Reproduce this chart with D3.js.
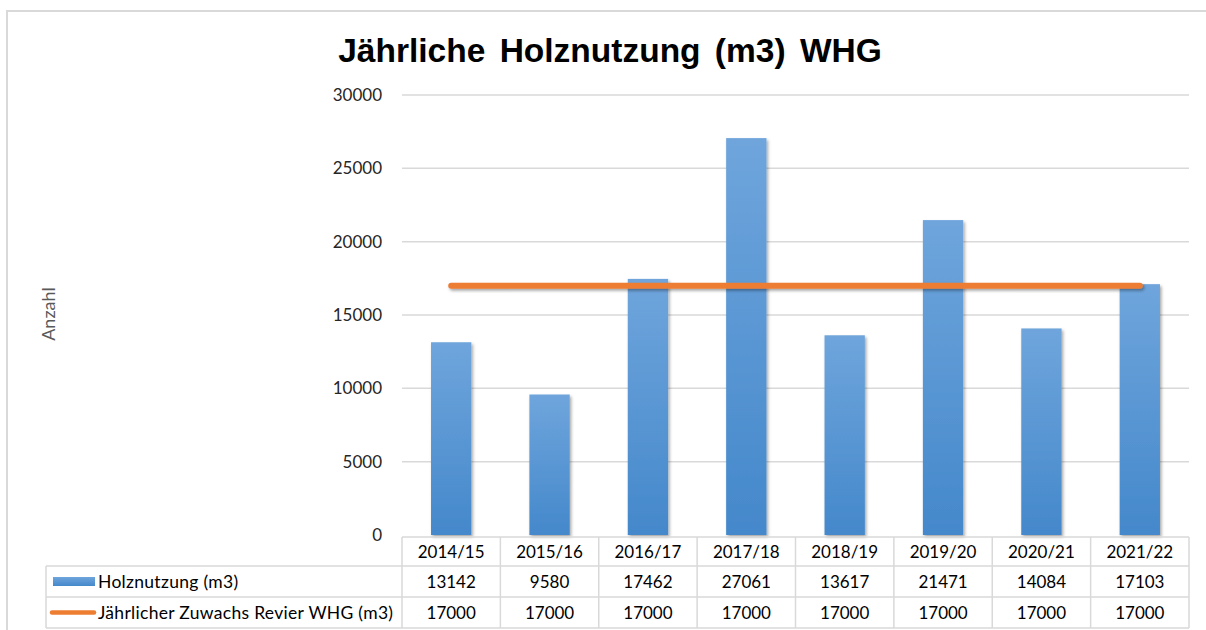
<!DOCTYPE html>
<html>
<head>
<meta charset="utf-8">
<script src="https://cdn.jsdelivr.net/npm/d3@7"></script>
<style>
  body { margin: 0; background: #fff; }
  svg { display: block; }
</style>
</head>
<body>
<svg id="chart" width="1206" height="630"></svg>
<script>
// data
const years = ["2014/15", "2015/16", "2016/17", "2017/18", "2018/19", "2019/20", "2020/21", "2021/22"];
const holznutzung = [13142, 9580, 17462, 27061, 13617, 21471, 14084, 17103];
const zuwachs = [17000, 17000, 17000, 17000, 17000, 17000, 17000, 17000];
const yTicks = [0, 5000, 10000, 15000, 20000, 25000, 30000];
const seriesNames = ["Holznutzung (m3)", "Jährlicher Zuwachs Revier WHG (m3)"];

const W = 1206, H = 630;
const plotLeft = 402, plotRight = 1189, plotTop = 95, plotBottom = 535;
const tableLeft = 46;
const rowH = 31;
const labelFont = "Lato, 'Open Sans', sans-serif";
const labelSize = "17px";

const svg = d3.select("#chart");

const defs = svg.append("defs");
const grad = defs.append("linearGradient")
    .attr("id", "barGrad")
    .attr("x1", 0).attr("y1", 0).attr("x2", 0).attr("y2", 1);
grad.append("stop").attr("offset", "0%").attr("stop-color", "#6fa5dc");
grad.append("stop").attr("offset", "100%").attr("stop-color", "#4488cb");

// shadow in user space so a flat horizontal line still gets drawn
const shadow = defs.append("filter")
    .attr("id", "shadow")
    .attr("filterUnits", "userSpaceOnUse")
    .attr("x", 0).attr("y", 0).attr("width", W).attr("height", H);
shadow.append("feDropShadow")
    .attr("dx", 1.5).attr("dy", 2)
    .attr("stdDeviation", 1.6)
    .attr("flood-color", "#000").attr("flood-opacity", 0.35);

// outer frame (only top and left edges visible)
svg.append("path")
    .attr("d", `M7,${H} L7,11 L${W},11`)
    .attr("fill", "none")
    .attr("stroke", "#d9d9d9")
    .attr("stroke-width", 2);

// title
svg.append("text")
    .attr("x", 610).attr("y", 62)
    .attr("text-anchor", "middle")
    .style("font", "bold 33.5px 'Liberation Sans', Arial, sans-serif")
    .style("word-spacing", "5px")
    .attr("fill", "#000")
    .text("Jährliche Holznutzung (m3) WHG");

const x = d3.scaleBand()
    .domain(years)
    .range([plotLeft, plotRight])
    .paddingInner(0.59)
    .paddingOuter(0.295);

const y = d3.scaleLinear()
    .domain([0, 30000])
    .range([plotBottom, plotTop]);

// gridlines
svg.append("g")
    .selectAll("line")
    .data(yTicks.filter(d => d > 0))
    .join("line")
    .attr("x1", plotLeft).attr("x2", plotRight)
    .attr("y1", d => y(d)).attr("y2", d => y(d))
    .attr("stroke", "#d9d9d9")
    .attr("stroke-width", 1.5);

// y axis labels
const yAxis = svg.append("g")
    .attr("transform", `translate(${plotLeft - 17},0)`)
    .call(d3.axisLeft(y).tickValues(yTicks).tickSize(0).tickFormat(d3.format("d")));
yAxis.select(".domain").remove();
yAxis.selectAll("text")
    .style("font", `${labelSize} ${labelFont}`)
    .attr("fill", "#262626")
    .attr("dy", "0.32em");

// axis title
svg.append("text")
    .attr("transform", `translate(55,314) rotate(-90)`)
    .attr("text-anchor", "middle")
    .style("font", `18px ${labelFont}`)
    .attr("fill", "#595959")
    .text("Anzahl");

// bars
svg.append("g")
    .selectAll("rect")
    .data(years)
    .join("rect")
    .attr("x", d => x(d))
    .attr("width", x.bandwidth())
    .attr("y", (d, i) => y(holznutzung[i]))
    .attr("height", (d, i) => y(0) - y(holznutzung[i]))
    .attr("fill", "url(#barGrad)")
    .attr("filter", "url(#shadow)");

// line series
const line = d3.line()
    .x((d, i) => x(years[i]) + x.bandwidth() / 2)
    .y(d => y(d));
svg.append("path")
    .datum(zuwachs)
    .attr("d", line)
    .attr("fill", "none")
    .attr("stroke", "#ed7d31")
    .attr("stroke-width", 6)
    .attr("stroke-linecap", "round")
    .attr("filter", "url(#shadow)");

// data table
const step = x.step();
const colX = years.map((d, i) => plotLeft + i * step);
const table = svg.append("g")
    .attr("stroke", "#d9d9d9")
    .attr("stroke-width", 1.5)
    .attr("fill", "none");

const headTop = plotBottom + 2;
const row1 = headTop + 29, row2 = row1 + rowH, row3 = row2 + rowH;

// horizontal lines
table.append("line").attr("x1", plotLeft).attr("x2", plotRight).attr("y1", headTop).attr("y2", headTop);
[row1, row2, row3].forEach(yy => {
  table.append("line").attr("x1", tableLeft).attr("x2", plotRight).attr("y1", yy).attr("y2", yy);
});
// vertical lines
table.append("line").attr("x1", tableLeft).attr("x2", tableLeft).attr("y1", row1).attr("y2", row3);
colX.concat([plotRight]).forEach(xx => {
  table.append("line").attr("x1", xx).attr("x2", xx).attr("y1", headTop).attr("y2", row3);
});

const cellText = svg.append("g")
    .style("font", `${labelSize} ${labelFont}`)
    .attr("fill", "#000")
    .attr("text-anchor", "middle");

cellText.selectAll(".yr")
    .data(years)
    .join("text")
    .attr("class", "yr")
    .attr("x", d => x(d) + x.bandwidth() / 2)
    .attr("y", (headTop + row1) / 2)
    .attr("dy", "0.36em")
    .text(d => d);

[holznutzung, zuwachs].forEach((vals, r) => {
  cellText.selectAll(".r" + r)
      .data(vals)
      .join("text")
      .attr("class", "r" + r)
      .attr("x", (d, i) => x(years[i]) + x.bandwidth() / 2)
      .attr("y", (r === 0 ? (row1 + row2) : (row2 + row3)) / 2)
      .attr("dy", "0.36em")
      .text(d => d);
});

// legend keys + series names
svg.append("rect")
    .attr("x", 53).attr("y", (row1 + row2) / 2 - 4.5)
    .attr("width", 42).attr("height", 9)
    .attr("fill", "url(#barGrad)");
svg.append("line")
    .attr("x1", 52).attr("x2", 94)
    .attr("y1", (row2 + row3) / 2).attr("y2", (row2 + row3) / 2)
    .attr("stroke", "#ed7d31")
    .attr("stroke-width", 4.5)
    .attr("stroke-linecap", "round");

svg.append("g")
    .style("font", `17.5px ${labelFont}`)
    .style("letter-spacing", "0.3px")
    .attr("fill", "#000")
    .selectAll("text")
    .data(seriesNames)
    .join("text")
    .attr("x", 98)
    .attr("y", (d, i) => i === 0 ? (row1 + row2) / 2 : (row2 + row3) / 2)
    .attr("dy", "0.36em")
    .text(d => d);
</script>
</body>
</html>
